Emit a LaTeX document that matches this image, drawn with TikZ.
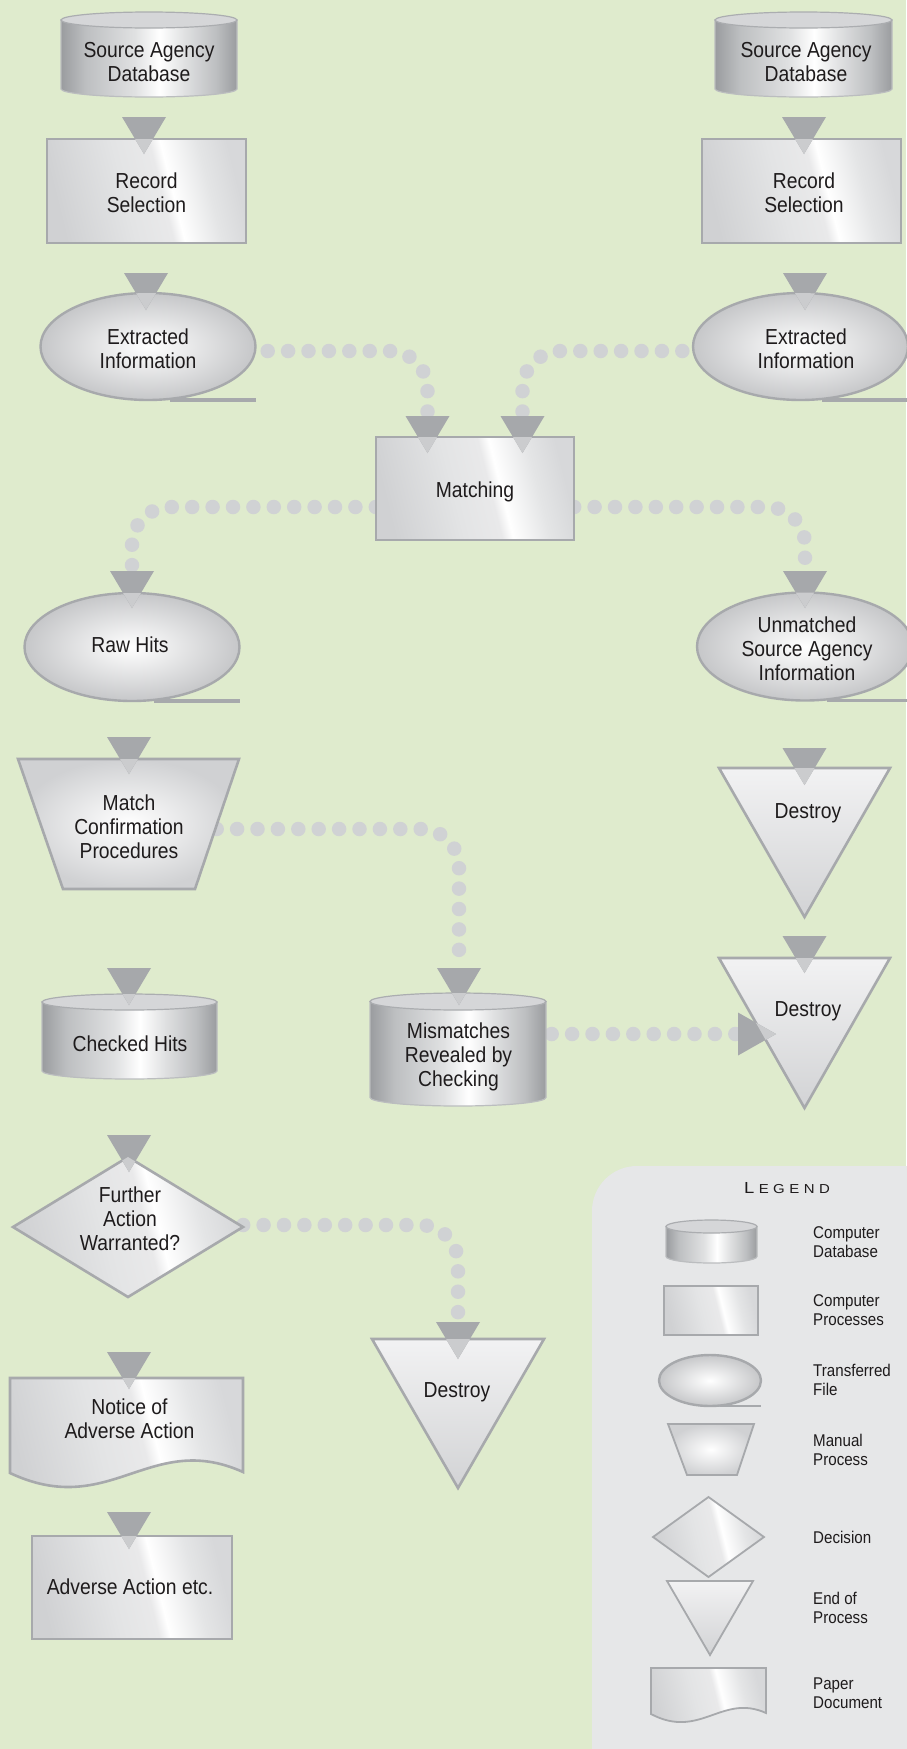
\documentclass[tikz,border=0pt]{standalone}
\usepackage{fontspec}
\setmainfont{Liberation Sans}[FakeStretch=0.89]
\newfontfamily\legtitlefont{Liberation Sans}[FakeStretch=1.15]
\usetikzlibrary{calc}
\pgfdeclarelayer{Lbg}\pgfdeclarelayer{Ldot}\pgfdeclarelayer{Lshape}\pgfdeclarelayer{Larr}
\pgfsetlayers{Lbg,Ldot,Lshape,Larr,main}
\definecolor{bgc}{HTML}{DFEBCD}
\definecolor{legc}{HTML}{E6E7E8}
\definecolor{bdc}{HTML}{A7A9AC}
\definecolor{arrd}{HTML}{A6A8AB}
\definecolor{arrl}{HTML}{CBCCCE}
\definecolor{dotc}{HTML}{D0D2D4}
\definecolor{txtc}{HTML}{1E1B1C}
\definecolor{cylA}{HTML}{9A9C9F}
\definecolor{cylB}{HTML}{BDBFC1}
\definecolor{cylC}{HTML}{E0E1E2}
\definecolor{cyltop}{HTML}{D5D6D8}
\definecolor{cylrim}{HTML}{ABADB0}
\definecolor{cyll}{HTML}{BBBDBF}
\definecolor{rA}{HTML}{D0D1D3}
\definecolor{rB}{HTML}{E3E4E5}
\definecolor{rC}{HTML}{E9E9EA}
\definecolor{rD}{HTML}{E4E5E6}
\definecolor{rE}{HTML}{D7D8DA}
\definecolor{ellout}{HTML}{C6C7C9}
\definecolor{trapout}{HTML}{D0D1D3}
\definecolor{tritop}{HTML}{F2F2F3}
\definecolor{tribot}{HTML}{D2D3D5}
\pgfdeclarehorizontalshading{cylsh}{100bp}{color(0bp)=(cylA); color(25bp)=(cylA); color(32bp)=(cylB); color(46bp)=(cylC); color(53bp)=(white); color(60bp)=(cylC); color(69bp)=(cylB); color(75bp)=(cylA); color(100bp)=(cylA)}
\pgfdeclarehorizontalshading{rectsh}{100bp}{color(0bp)=(rA); color(25bp)=(rA); color(44bp)=(rB); color(54bp)=(rC); color(57bp)=(white); color(67bp)=(rD); color(75bp)=(rE); color(100bp)=(rE)}
\tikzset{
  lbl/.style={align=center, font=\fontsize{21.7}{24}\selectfont, text=txtc, inner sep=0pt},
  leglbl/.style={align=left, font=\fontsize{17}{19}\selectfont, text=txtc, inner sep=0pt, anchor=west},
  dotline/.style={draw=dotc, line width=14.5pt, line cap=round, dash pattern=on 0pt off 20.4pt, rounded corners=38pt},
  bd/.style={draw=bdc, line width=2.6pt},
  ul/.style={draw=bdc, line width=3.6pt},
}
% shapes
\newcommand\Cyl[5]{%
  \shadedraw[shading=cylsh, draw=cyll, line width=1.2pt] ({#1-#4},{#2+#5}) -- ({#1-#4},{#3-#5}) arc[start angle=180, end angle=0, x radius=#4, y radius=#5] -- ({#1+#4},{#2+#5}) -- cycle;
  \filldraw[fill=cyltop, draw=cylrim, line width=1.2pt] (#1,{#2+#5}) ellipse[x radius=#4, y radius=#5];}
\newcommand\Rct[4]{\shadedraw[shading=rectsh, shading angle=14, bd] (#1,#2) rectangle (#3,#4);}
\newcommand\Ell[4]{%
  \shadedraw[inner color=white, outer color=ellout, bd, line width=2.4pt] (#1,#2) ellipse[x radius=#3, y radius=#4];
  \draw[ul] ({#1+0.2*#3},{#2+#4}) -- ({#1+#3},{#2+#4});}
\newcommand\Trp[6]{\shadedraw[inner color=white, outer color=trapout, bd] (#2,#1) -- (#3,#1) -- (#6,#4) -- (#5,#4) -- cycle;}
\newcommand\TriD[4]{\shadedraw[top color=tritop, bottom color=tribot, bd] (#1,#3) -- (#2,#3) -- ({(#1+#2)/2},#4) -- cycle;}
\newcommand\Dia[4]{\shadedraw[shading=rectsh, shading angle=14, bd] (#1,{#2-#4}) -- ({#1+#3},#2) -- (#1,{#2+#4}) -- ({#1-#3},#2) -- cycle;}
% arrowheads
\newcommand\ArD[2]{%
  \fill[arrd, shift={(#1)}] (-22,0) -- (22,0) -- (0,37) -- cycle;
  \begin{scope}#2\fill[arrl, shift={(#1)}] (-22,0) -- (22,0) -- (0,37) -- cycle;\end{scope}}
\newcommand\ArR[2]{%
  \fill[arrd, shift={(#1)}] (0,-21.5) -- (38,0) -- (0,21.5) -- cycle;
  \begin{scope}#2\fill[arrl, shift={(#1)}] (0,-21.5) -- (38,0) -- (0,21.5) -- cycle;\end{scope}}
\begin{document}
\begin{tikzpicture}[x=1pt,y=-1pt]
\useasboundingbox (0,0) rectangle (906,1749);
% ---------- text nodes ----------
\node[lbl, minimum width=176] (db1) at (149,62) {Source Agency\\Database};
\node[lbl, minimum width=199] (rs1) at (146.5,192.7) {Record\\Selection};
\node[lbl, minimum width=215] (ei1) at (148,348.7) {Extracted\\Information};
\node[lbl, minimum width=177] (db2) at (806,62) {Source Agency\\Database};
\node[lbl, minimum width=199] (rs2) at (804,192.7) {Record\\Selection};
\node[lbl, minimum width=215] (ei2) at (806,348.7) {Extracted\\Information};
\node[lbl, minimum width=198] (match) at (475,492) {Matching};
\node[lbl, minimum width=215] (raw) at (130,645) {Raw Hits};
\node[lbl, minimum width=215] (un) at (807,649) {Unmatched\\Source Agency\\Information};
\node[lbl, minimum width=221] (trap) at (129,826.7) {Match\\Confirmation\\Procedures};
\node[lbl] (d1) at (808,813.5) {Destroy};
\node[lbl, minimum width=175] (chk) at (130,1044) {Checked Hits};
\node[lbl, minimum width=176] (mism) at (458.5,1057) {Mismatches\\Revealed by\\Checking};
\node[lbl] (d2) at (808,1011) {Destroy};
\node[lbl, minimum width=230] (dia) at (130,1219) {Further\\Action\\Warranted?};
\node[lbl] (d3) at (457,1392) {Destroy};
\node[lbl] (notice) at (129.5,1418.7) {Notice of\\Adverse Action};
\node[lbl] (adv) at (130,1587) {Adverse Action etc.};
% legend texts
\node[text=txtc, inner sep=0pt] (legtitle) at (787,1188) {\legtitlefont\fontsize{16}{16}\selectfont L\kern4.5pt\fontsize{13}{13}\selectfont E\kern4.5pt G\kern4.5pt E\kern4.5pt N\kern4.5pt D};
\node[leglbl] (lg1) at (813,1242) {Computer\\Database};
\node[leglbl] (lg2) at (813,1310) {Computer\\Processes};
\node[leglbl] (lg3) at (813,1380) {Transferred\\File};
\node[leglbl] (lg4) at (813,1450) {Manual\\Process};
\node[leglbl] (lg5) at (813,1537) {Decision};
\node[leglbl] (lg6) at (813,1608) {End of\\Process};
\node[leglbl] (lg7) at (813,1693) {Paper\\Document};
% ---------- arrowhead anchor coordinates ----------
\coordinate (a1) at (144,117);
\coordinate (a2) at (146,273);
\coordinate (b1) at (804,117);
\coordinate (b2) at (805,273);
\coordinate (tml) at (427.5,416);
\coordinate (tmr) at (522.5,416);
\coordinate (traw) at (132,571);
\coordinate (tun) at (805,571);
\coordinate (atrap) at (129,737);
\coordinate (ad1) at (804.5,748);
\coordinate (achk) at (129,968);
\coordinate (tmis) at (459,968);
\coordinate (ad2) at (804.5,936);
\coordinate (tr) at (738,1034);
\coordinate (adia) at (129,1135);
\coordinate (td3) at (458,1322);
\coordinate (anot) at (129,1352);
\coordinate (aadv) at (129,1512);
% ---------- background ----------
\begin{pgfonlayer}{Lbg}
\fill[bgc] (0,0) rectangle (906,1749);
\fill[legc, rounded corners=45pt] (592,1166) rectangle (960,1800);
\end{pgfonlayer}
% ---------- dotted connectors ----------
\begin{pgfonlayer}{Ldot}
\draw[dotline] ([xshift=12pt,yshift=-2.3pt]ei1.east) -| (tml);
\draw[dotline] ([xshift=-16pt,yshift=-2.3pt]ei2.west) -| (tmr);
\draw[dotline] ([yshift=-15pt]match.west) -| (traw);
\draw[dotline] ([yshift=-15pt]match.east) -| (tun);
\draw[dotline] ([xshift=-23pt,yshift=-2.3pt]trap.east) -| (tmis);
\draw[dotline] ([xshift=5pt,yshift=23pt]mism.east) -- (tr);
\draw[dotline] ([xshift=-2pt,yshift=-6pt]dia.east) -| (td3);
\end{pgfonlayer}
% ---------- shapes ----------
\begin{pgfonlayer}{Lshape}
\Cyl{149}{12}{97}{88}{8}
\Rct{47}{139}{246}{243}
\Ell{148}{346.5}{107.5}{53.5}
\Cyl{803.5}{12}{97}{88.5}{8}
\Rct{702}{139}{901}{243}
\Ell{800.5}{346.5}{107.5}{53.5}
\Rct{376}{437}{574}{540}
\Ell{132}{647}{107.5}{54}
\Ell{805}{646.5}{108}{54}
\Trp{759}{18}{239}{889}{63}{195}
\TriD{719}{890}{768}{917}
\Cyl{129.5}{994}{1079}{87.5}{8}
\Cyl{458}{993}{1106}{88}{8.5}
\TriD{719}{890}{958}{1108}
\Dia{128}{1227}{115}{70}
\TriD{372}{544}{1339}{1488}
\shadedraw[shading=rectsh, shading angle=14, bd] (10,1378) -- (243,1378) -- (243,1472) .. controls (150,1430) and (110,1520) .. (10,1473) -- cycle;
\Rct{32}{1536}{232}{1639}
% legend shapes
\begin{scope}[bd/.style={draw=bdc, line width=1.8pt}, ul/.style={draw=bdc, line width=2.6pt}]
\Cyl{711.5}{1220}{1263}{45.5}{6.5}
\Rct{664}{1286}{758}{1335}
\Ell{710}{1380.5}{51}{25.5}
\Trp{1424}{668}{754}{1475}{687}{737}
\Dia{708.5}{1537}{55.5}{40}
\TriD{667}{753}{1581}{1655}
\shadedraw[shading=rectsh, shading angle=14, bd] (651,1668) -- (766,1668) -- (766,1713) .. controls (722,1693) and (700,1740) .. (651,1714) -- cycle;
\end{scope}
\end{pgfonlayer}
% ---------- arrowheads ----------
\begin{pgfonlayer}{Larr}
\ArD{a1}{\clip (47,139) rectangle (246,243);}
\ArD{a2}{\clip (148,346.5) ellipse[x radius=107.5, y radius=53.5];}
\ArD{b1}{\clip (702,139) rectangle (901,243);}
\ArD{b2}{\clip (800.5,346.5) ellipse[x radius=107.5, y radius=53.5];}
\ArD{tml}{\clip (376,437) rectangle (574,540);}
\ArD{tmr}{\clip (376,437) rectangle (574,540);}
\ArD{traw}{\clip (132,647) ellipse[x radius=107.5, y radius=54];}
\ArD{tun}{\clip (805,646.5) ellipse[x radius=108, y radius=54];}
\ArD{atrap}{\clip (18,759) -- (239,759) -- (195,889) -- (63,889) -- cycle;}
\ArD{ad1}{\clip (719,768) -- (890,768) -- (804.5,917) -- cycle;}
\ArD{achk}{\clip (42,994) rectangle (217,1079);}
\ArD{tmis}{\clip (370,993) rectangle (546,1106);}
\ArD{ad2}{\clip (719,958) -- (890,958) -- (804.5,1108) -- cycle;}
\ArR{tr}{\clip (719,958) -- (890,958) -- (804.5,1108) -- cycle;}
\ArD{adia}{\clip (128,1157) -- (243,1227) -- (128,1297) -- (13,1227) -- cycle;}
\ArD{td3}{\clip (372,1339) -- (544,1339) -- (458,1488) -- cycle;}
\ArD{anot}{\clip (10,1378) rectangle (243,1470);}
\ArD{aadv}{\clip (32,1536) rectangle (232,1639);}
\end{pgfonlayer}
\end{tikzpicture}
\end{document}
